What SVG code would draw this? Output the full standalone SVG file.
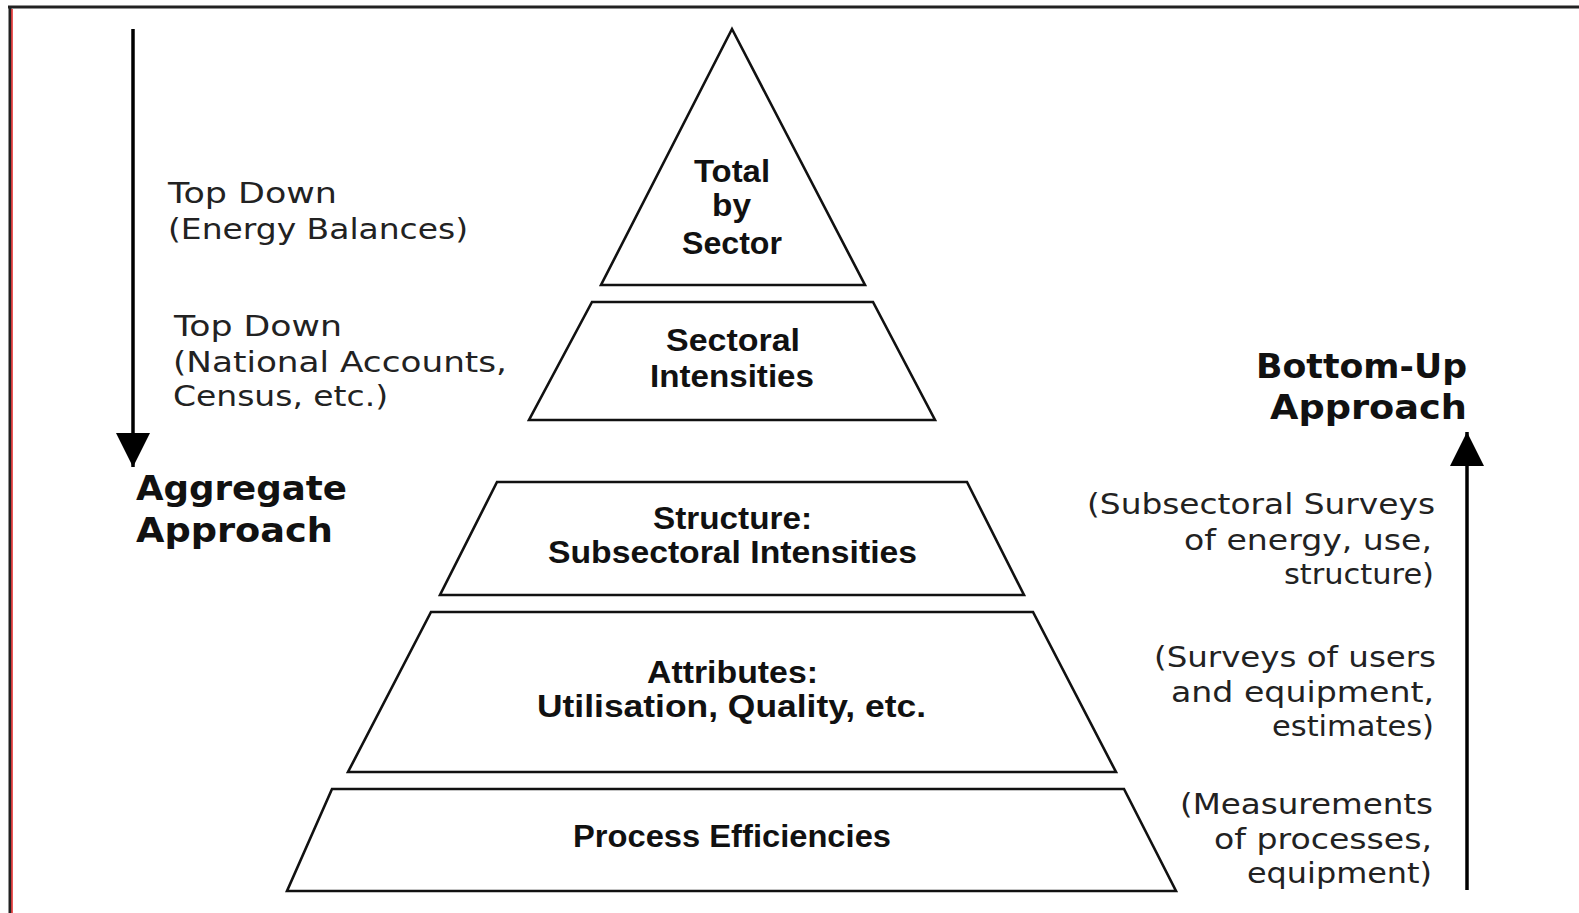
<svg xmlns="http://www.w3.org/2000/svg" width="1579" height="913" viewBox="0 0 1579 913">
<style>
.shape{fill:#fff;stroke:#111;stroke-width:2.6;stroke-linejoin:miter}
.lbl{font-family:"Liberation Sans",Arial,sans-serif;font-weight:bold;font-size:32px;fill:#111}
.reg{font-family:"DejaVu Sans","Liberation Sans",sans-serif;font-size:29px;fill:#222}
.big{font-family:"DejaVu Sans","Liberation Sans",sans-serif;font-weight:bold;font-size:34px;fill:#111}
.conn{stroke:#000;stroke-width:3.5;fill:none}
</style>
<defs>
<marker id="ah" markerUnits="userSpaceOnUse" markerWidth="34" markerHeight="34" refX="34" refY="17" orient="auto">
<path d="M0,0 L34,17 L0,34 Z" fill="#000"/>
</marker>
</defs>
<rect x="0" y="0" width="1579" height="913" fill="#fff"/>
<g id="frame">
<line x1="8" y1="7" x2="1579" y2="7" stroke="#222" stroke-width="3"/>
<line x1="10" y1="6" x2="10" y2="913" stroke="#222" stroke-width="3"/>
<line x1="12" y1="9" x2="12" y2="913" stroke="#e02020" stroke-width="1.5"/>
</g>
<g id="connectors">
<line class="conn" x1="133" y1="29" x2="133" y2="467" marker-end="url(#ah)"/>
<line class="conn" x1="1467" y1="890" x2="1467" y2="432" marker-end="url(#ah)"/>
</g>
<g id="total">
<polygon class="shape" points="732,29 865,285 601,285"/>
<text class="lbl" x="694" y="182" textLength="76" lengthAdjust="spacingAndGlyphs">Total</text>
<text class="lbl" x="712" y="216" textLength="39" lengthAdjust="spacingAndGlyphs">by</text>
<text class="lbl" x="682" y="254" textLength="100" lengthAdjust="spacingAndGlyphs">Sector</text>
</g>
<g id="sectoral">
<polygon class="shape" points="592,302 873,302 935,420 529,420"/>
<text class="lbl" x="666" y="351" textLength="134" lengthAdjust="spacingAndGlyphs">Sectoral</text>
<text class="lbl" x="650" y="387" textLength="164" lengthAdjust="spacingAndGlyphs">Intensities</text>
</g>
<g id="structure">
<polygon class="shape" points="497,482 967,482 1024,595 440,595"/>
<text class="lbl" x="653" y="529" textLength="159" lengthAdjust="spacingAndGlyphs">Structure:</text>
<text class="lbl" x="548" y="563" textLength="369" lengthAdjust="spacingAndGlyphs">Subsectoral Intensities</text>
</g>
<g id="attributes">
<polygon class="shape" points="431,612 1033,612 1116,772 348,772"/>
<text class="lbl" x="647" y="683" textLength="171" lengthAdjust="spacingAndGlyphs">Attributes:</text>
<text class="lbl" x="537" y="717" textLength="389" lengthAdjust="spacingAndGlyphs">Utilisation, Quality, etc.</text>
</g>
<g id="process">
<polygon class="shape" points="332,789 1124,789 1176,891 287,891"/>
<text class="lbl" x="573" y="847" textLength="318" lengthAdjust="spacingAndGlyphs">Process Efficiencies</text>
</g>
<g id="left-labels">
<text class="reg" x="168" y="203" textLength="169" lengthAdjust="spacingAndGlyphs">Top Down</text>
<text class="reg" x="168" y="239" textLength="300" lengthAdjust="spacingAndGlyphs">(Energy Balances)</text>
<text class="reg" x="174" y="336" textLength="168" lengthAdjust="spacingAndGlyphs">Top Down</text>
<text class="reg" x="173" y="372" textLength="334" lengthAdjust="spacingAndGlyphs">(National Accounts,</text>
<text class="reg" x="173" y="406" textLength="215" lengthAdjust="spacingAndGlyphs">Census, etc.)</text>
<text class="big" x="136" y="500" textLength="211" lengthAdjust="spacingAndGlyphs">Aggregate</text>
<text class="big" x="136" y="542" textLength="197" lengthAdjust="spacingAndGlyphs">Approach</text>
</g>
<g id="right-labels">
<text class="big" x="1256" y="378" textLength="211" lengthAdjust="spacingAndGlyphs">Bottom-Up</text>
<text class="big" x="1270" y="419" textLength="197" lengthAdjust="spacingAndGlyphs">Approach</text>
<text class="reg" x="1087" y="514" textLength="348" lengthAdjust="spacingAndGlyphs">(Subsectoral Surveys</text>
<text class="reg" x="1184" y="550" textLength="248" lengthAdjust="spacingAndGlyphs">of energy, use,</text>
<text class="reg" x="1284" y="584" textLength="150" lengthAdjust="spacingAndGlyphs">structure)</text>
<text class="reg" x="1154" y="667" textLength="282" lengthAdjust="spacingAndGlyphs">(Surveys of users</text>
<text class="reg" x="1171" y="702" textLength="263" lengthAdjust="spacingAndGlyphs">and equipment,</text>
<text class="reg" x="1272" y="736" textLength="162" lengthAdjust="spacingAndGlyphs">estimates)</text>
<text class="reg" x="1180" y="814" textLength="253" lengthAdjust="spacingAndGlyphs">(Measurements</text>
<text class="reg" x="1214" y="849" textLength="218" lengthAdjust="spacingAndGlyphs">of processes,</text>
<text class="reg" x="1247" y="883" textLength="185" lengthAdjust="spacingAndGlyphs">equipment)</text>
</g>
</svg>
